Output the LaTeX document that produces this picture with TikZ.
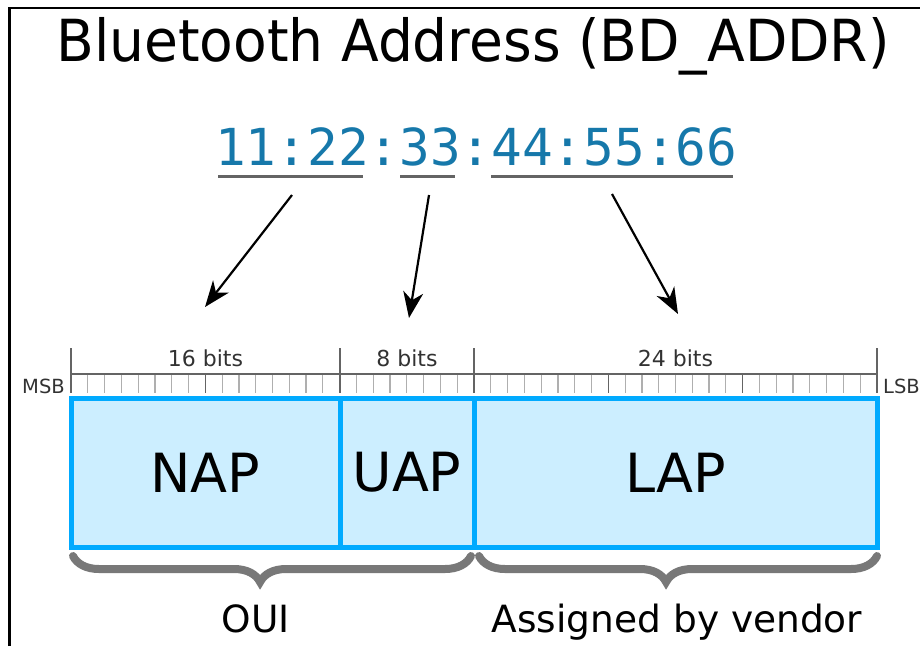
\documentclass[tikz,border=0pt]{standalone}
\usepackage{fontspec}
\setmainfont{DejaVu Sans}
\setmonofont{DejaVu Sans Mono}
\newfontfamily\titlefont[FakeStretch=0.95]{DejaVu Sans}
\usetikzlibrary{arrows.meta,decorations.pathreplacing}
\definecolor{addrblue}{RGB}{22,120,170}
\definecolor{cellfill}{RGB}{204,238,255}
\definecolor{celledge}{RGB}{0,170,255}
\definecolor{rulegray}{RGB}{100,100,100}
\definecolor{ticklight}{RGB}{175,175,175}
\definecolor{bracegray}{RGB}{120,120,120}
\definecolor{labelgray}{RGB}{50,50,50}
\begin{document}
\begin{tikzpicture}[x=1pt,y=-1pt,
  cell/.style={draw=celledge, fill=cellfill, line width=5pt, minimum height=149pt, inner sep=0pt, font=\fontsize{54}{54}\selectfont},
  bitlabel/.style={font=\fontsize{22}{22}\selectfont, text=labelgray, inner sep=0pt, anchor=base},
  endlabel/.style={font=\fontsize{19.5}{19.5}\selectfont, text=labelgray, inner sep=0pt},
  ptr/.style={-{Stealth[length=26pt,width=20pt,inset=8pt]}, line width=2.2pt},
  uline/.style={line width=3pt, draw=rulegray},
  majortick/.style={draw=rulegray, line width=1.5pt},
  minortick/.style={draw=ticklight, line width=1.2pt},
  bracestyle/.style={decorate, decoration={brace, mirror, amplitude=26pt, aspect=0.47}, line width=8pt, draw=bracegray, line cap=round},
  caption/.style={font=\fontsize{37.5}{37.5}\selectfont, inner sep=0pt, anchor=base}
]
\useasboundingbox (0,0) rectangle (920,646);
\draw[line width=2.5pt] (9.5,646) -- (9.5,8) -- (920,8);

\node[font=\titlefont\fontsize{58}{58}\selectfont, anchor=base, inner sep=0pt] (title) at (473,61) {Bluetooth Address (BD\_ADDR)};

\node[font=\ttfamily\fontsize{51}{51}\selectfont, text=addrblue, anchor=base west, inner sep=0pt] (addr) at (215,165) {11:22:33:44:55:66};

\coordinate (u1a) at (218,176); \coordinate (u1b) at (363,176);
\coordinate (u2a) at (400,176); \coordinate (u2b) at (455,176);
\coordinate (u3a) at (491,176); \coordinate (u3b) at (733,176);
\draw[uline] (u1a) -- (u1b);
\draw[uline] (u2a) -- (u2b);
\draw[uline] (u3a) -- (u3b);

\coordinate (p1s) at (292,195); \coordinate (p1e) at (205,307);
\coordinate (p2s) at (429,195); \coordinate (p2e) at (409,318);
\coordinate (p3s) at (612,194); \coordinate (p3e) at (678,314);
\draw[ptr] (p1s) -- (p1e);
\draw[ptr] (p2s) -- (p2e);
\draw[ptr] (p3s) -- (p3e);

% bit ruler
\foreach \i in {1,...,47} \draw[minortick] ({71+\i*16.7917},374) -- ++(0,19);
\foreach \i in {8,32,40} \draw[majortick] ({71+\i*16.7917},374) -- ++(0,19);
\foreach \x in {71,340,474,877} \draw[majortick] (\x,348) -- (\x,393);
\draw[majortick] (71,374) -- (877,374);

\node[bitlabel] (b16) at (205.5,366) {16 bits};
\node[bitlabel] (b8) at (407,366) {8 bits};
\node[bitlabel] (b24) at (675.5,366) {24 bits};
\node[endlabel, anchor=base east] (msb) at (65,393) {MSB};
\node[endlabel, anchor=base west] (lsb) at (883,393) {LSB};

% fields
\node[cell, minimum width=269pt] (nap) at (205.5,472.5) {NAP};
\node[cell, minimum width=403pt] (lap) at (675.5,472.5) {LAP};
\node[cell, minimum width=134pt] (uap) at (407,472.5) {UAP};

% braces
\coordinate (ouiL) at (73,556); \coordinate (ouiR) at (471,556);
\coordinate (venL) at (479,556); \coordinate (venR) at (877,556);
\draw[bracestyle] (ouiL) -- (ouiR);
\draw[bracestyle] (venL) -- (venR);

\node[caption] (oui) at (256,632) {OUI};
\node[caption] (vendor) at (677,632) {Assigned by vendor};
\end{tikzpicture}
\end{document}
